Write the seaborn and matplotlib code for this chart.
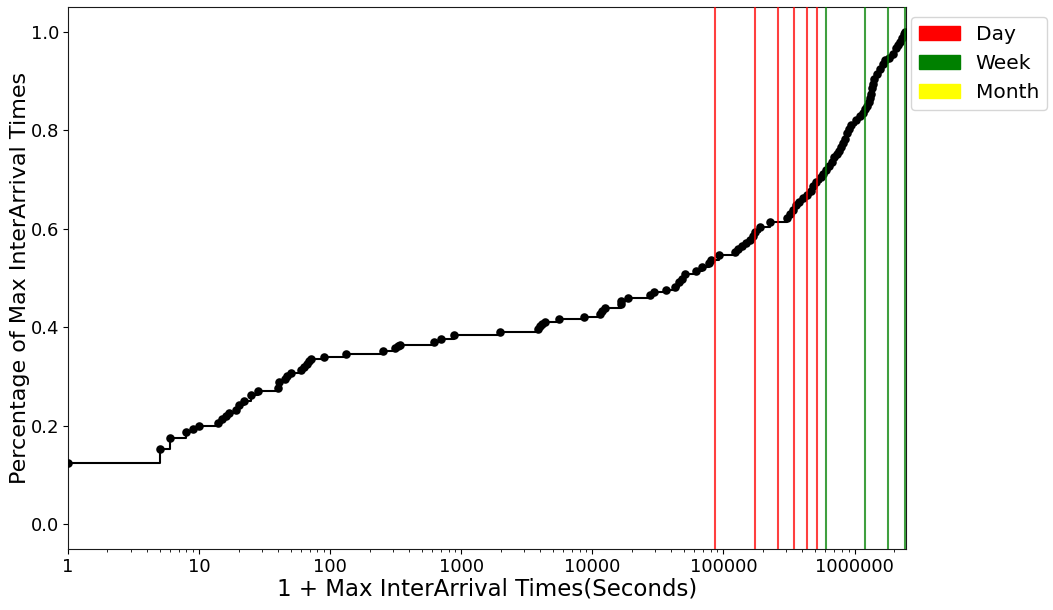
import numpy as np
import pandas as pd
import matplotlib
matplotlib.use("Agg")
import matplotlib.pyplot as plt
import matplotlib.patches as mpatches
from matplotlib.ticker import ScalarFormatter, NullFormatter
import seaborn as sns

# 1 + max inter-arrival time (seconds) and the cumulative fraction at that value
inter_arrival = [
    1, 5, 6, 8, 9, 10, 14, 15, 16, 17, 19, 20, 22, 25, 28, 40, 41, 45, 47, 50,
    60, 63, 66, 69, 72, 89, 131, 251, 313, 327, 338, 622, 703, 874, 1960,
    3850, 4010, 4150, 4325, 5600, 8690, 11500, 11900, 12400, 16400, 16500,
    18600, 27700, 29400, 36700, 43000, 45600, 48400, 51300, 62200, 69200,
    77200, 81000, 92000, 123600, 130300, 139700, 149900, 160700, 169400,
    175400, 191500, 228400, 305300, 324600, 342000, 360600, 380400, 408000,
    437700, 469700, 486400, 512900, 550300, 579900, 611200, 644200, 679000,
    703000, 729000, 755000, 782000, 810000, 839000, 869000, 900000, 948000,
    1018000, 1092000, 1151000, 1192000, 1235000, 1279000, 1313000, 1336000,
    1361000, 1385000, 1410000, 1473000, 1553000, 1637000, 1695000, 1820000,
    1950000, 2056000, 2130000, 2207000, 2286000, 2367000, 2429000,
]
cum_fraction = [
    0.125, 0.152, 0.176, 0.188, 0.194, 0.200, 0.206, 0.214, 0.220, 0.227,
    0.233, 0.243, 0.251, 0.262, 0.271, 0.277, 0.289, 0.296, 0.301, 0.308,
    0.314, 0.319, 0.325, 0.331, 0.335, 0.339, 0.346, 0.352, 0.358, 0.361,
    0.365, 0.370, 0.376, 0.385, 0.390, 0.397, 0.402, 0.407, 0.410, 0.416,
    0.421, 0.426, 0.433, 0.440, 0.447, 0.453, 0.459, 0.466, 0.472, 0.476,
    0.482, 0.491, 0.499, 0.509, 0.515, 0.522, 0.530, 0.536, 0.547, 0.553,
    0.559, 0.565, 0.571, 0.577, 0.585, 0.593, 0.603, 0.613, 0.621, 0.630,
    0.638, 0.648, 0.654, 0.662, 0.668, 0.676, 0.686, 0.694, 0.704, 0.711,
    0.719, 0.727, 0.735, 0.745, 0.751, 0.757, 0.765, 0.775, 0.783, 0.794,
    0.802, 0.810, 0.820, 0.828, 0.834, 0.842, 0.850, 0.858, 0.866, 0.874,
    0.885, 0.893, 0.903, 0.915, 0.925, 0.935, 0.943, 0.947, 0.955, 0.966,
    0.972, 0.980, 0.988, 0.996, 1.000,
]

day_marks = [86400, 172800, 259200, 345600, 432000, 518400]
week_marks = [604800, 1209600, 1814400, 2419200]
month_marks = [2592000]

legend_labels = ["Day", "Week", "Month"]
legend_colors = ["red", "green", "yellow"]

df = pd.DataFrame({"x": inter_arrival, "y": cum_fraction})

sns.set_style("ticks", {"axes.edgecolor": "0.1", "text.color": "black",
                        "axes.labelcolor": "black", "xtick.color": "black",
                        "ytick.color": "black"})
plt.rcParams["font.family"] = ["DejaVu Sans"]

fig = plt.figure(figsize=(10.53, 6.10), dpi=100)
ax = fig.add_axes([0.0646, 0.10, 0.796, 0.8885])

sns.lineplot(data=df, x="x", y="y", estimator=None, drawstyle="steps-post",
             color="black", linewidth=1.5, ax=ax)
sns.scatterplot(data=df, x="x", y="y", color="black", s=38, linewidth=0,
                ax=ax, zorder=3)

for d in day_marks:
    ax.axvline(d, color="red", alpha=0.75, linewidth=1.5, zorder=4)
for w in week_marks:
    ax.axvline(w, color="green", alpha=0.75, linewidth=1.5, zorder=4)
for m in month_marks:
    ax.axvline(m, color="yellow", alpha=0.75, linewidth=1.5, zorder=4)

ax.set_xscale("log")
ax.set_xlim(1, 2.48e6)
ax.set_ylim(-0.05, 1.05)
fmt = ScalarFormatter()
fmt.set_scientific(False)
ax.xaxis.set_major_formatter(fmt)
ax.xaxis.set_minor_formatter(NullFormatter())
ax.set_yticks([0.0, 0.2, 0.4, 0.6, 0.8, 1.0])
ax.tick_params(axis="both", labelsize=13, pad=3)

ax.set_xlabel("1 + Max InterArrival Times(Seconds)", fontsize=16.5, labelpad=1)
ax.set_ylabel("Percentage of Max InterArrival Times", fontsize=16, labelpad=0)

handles = [mpatches.Patch(color=c, label=l) for l, c in zip(legend_labels, legend_colors)]
ax.legend(handles=handles, loc="upper left", bbox_to_anchor=(1.006, 0.982),
          fontsize=14.5, frameon=True, borderaxespad=0)

fig.savefig("out.png", dpi=100)
